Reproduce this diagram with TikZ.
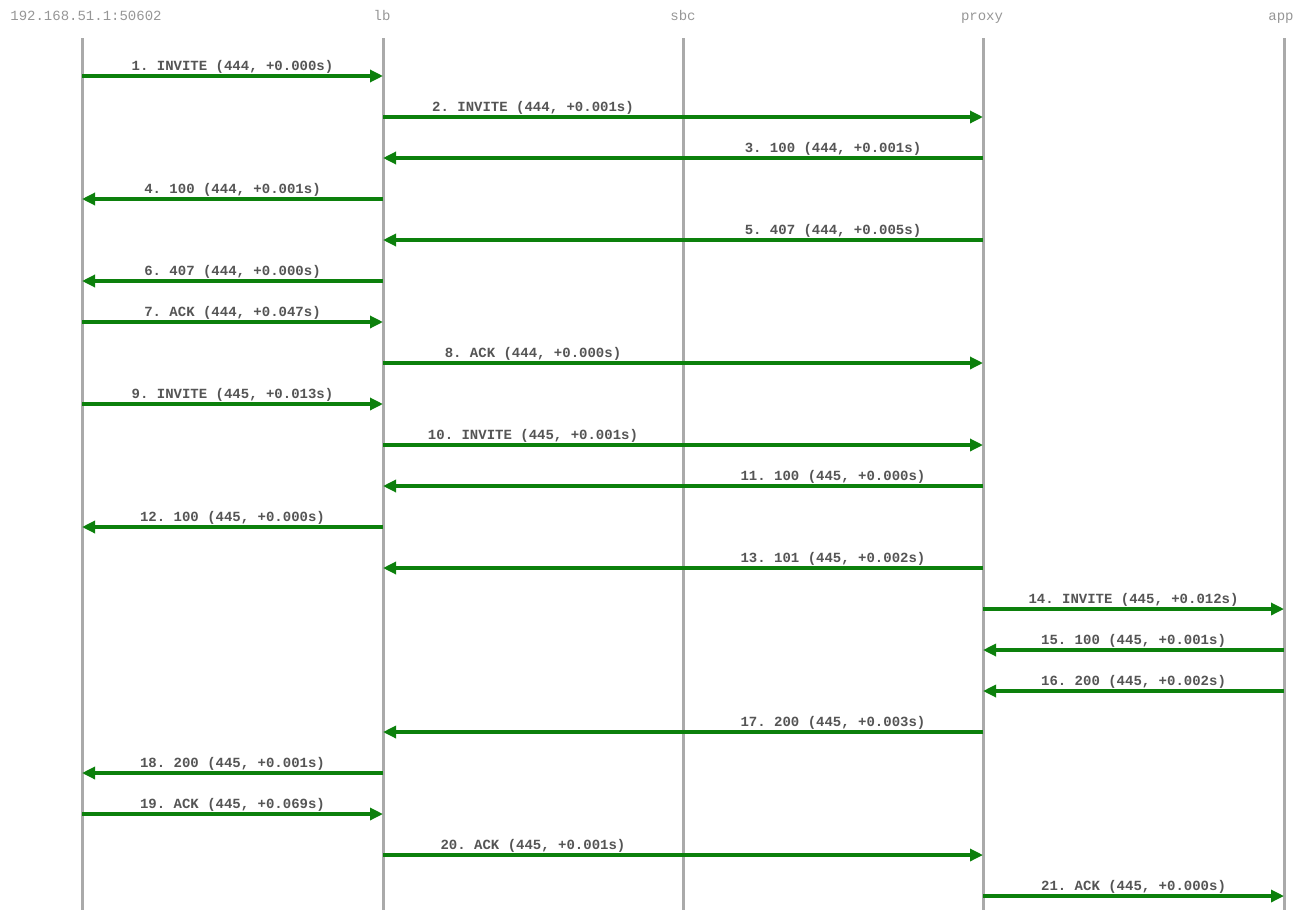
\documentclass[tikz,border=0pt]{standalone}
\usepackage{fontspec}
\setmonofont{Liberation Mono}
\usepackage{tikz}
\usetikzlibrary{calc,arrows.meta}

\definecolor{msggreen}{RGB}{12,128,12}
\definecolor{lifegray}{RGB}{170,170,170}
\definecolor{headgray}{RGB}{150,150,150}
\definecolor{textgray}{RGB}{85,85,85}

\tikzset{
  head/.style={anchor=base,text=headgray,font=\fontsize{14}{16}\selectfont\ttfamily,inner sep=0pt},
  life/.style={draw=lifegray,line width=3pt},
  msg/.style={draw=msggreen,line width=3.2pt,-{Triangle[length=13pt,width=12pt]}},
  lbl/.style={anchor=base,yshift=6pt,inner sep=0pt,text=textgray,font=\fontsize{14}{16}\selectfont\ttfamily\bfseries}
}

\begin{document}
\begin{tikzpicture}[x=1pt,y=-1pt]
  \useasboundingbox (0,0) rectangle (1305,910);
  % lifelines
  \node[head] (client) at (86,20) {192.168.51.1:50602};
  \node[head] (lb) at (382,20) {lb};
  \node[head] (sbc) at (683,20) {sbc};
  \node[head] (proxy) at (982,20) {proxy};
  \node[head] (app) at (1281,20) {app};
  \coordinate (top) at (0,38);
  \coordinate (bot) at (0,910);
  \coordinate (cl) at (82,38);
  \coordinate (lbx) at (383,38);
  \coordinate (sbcx) at (683,38);
  \coordinate (px) at (983,38);
  \coordinate (ap) at (1284,38);
  \draw[life] (cl |- top) -- (cl |- bot);
  \draw[life] (lbx |- top) -- (lbx |- bot);
  \draw[life] (sbcx |- top) -- (sbcx |- bot);
  \draw[life] (px |- top) -- (px |- bot);
  \draw[life] (ap |- top) -- (ap |- bot);
  % message rows
  \foreach \i in {1,...,21} \coordinate (r\i) at (0,35+41*\i);
  % messages
  \draw[msg] (cl |- r1) -- node[lbl] {1. INVITE (444, +0.000s)} (lbx |- r1);
  \draw[msg] (lbx |- r2) -- node[lbl,pos=.25] {2. INVITE (444, +0.001s)} (px |- r2);
  \draw[msg] (px |- r3) -- node[lbl,pos=.25] {3. 100 (444, +0.001s)} (lbx |- r3);
  \draw[msg] (lbx |- r4) -- node[lbl] {4. 100 (444, +0.001s)} (cl |- r4);
  \draw[msg] (px |- r5) -- node[lbl,pos=.25] {5. 407 (444, +0.005s)} (lbx |- r5);
  \draw[msg] (lbx |- r6) -- node[lbl] {6. 407 (444, +0.000s)} (cl |- r6);
  \draw[msg] (cl |- r7) -- node[lbl] {7. ACK (444, +0.047s)} (lbx |- r7);
  \draw[msg] (lbx |- r8) -- node[lbl,pos=.25] {8. ACK (444, +0.000s)} (px |- r8);
  \draw[msg] (cl |- r9) -- node[lbl] {9. INVITE (445, +0.013s)} (lbx |- r9);
  \draw[msg] (lbx |- r10) -- node[lbl,pos=.25] {10. INVITE (445, +0.001s)} (px |- r10);
  \draw[msg] (px |- r11) -- node[lbl,pos=.25] {11. 100 (445, +0.000s)} (lbx |- r11);
  \draw[msg] (lbx |- r12) -- node[lbl] {12. 100 (445, +0.000s)} (cl |- r12);
  \draw[msg] (px |- r13) -- node[lbl,pos=.25] {13. 101 (445, +0.002s)} (lbx |- r13);
  \draw[msg] (px |- r14) -- node[lbl] {14. INVITE (445, +0.012s)} (ap |- r14);
  \draw[msg] (ap |- r15) -- node[lbl] {15. 100 (445, +0.001s)} (px |- r15);
  \draw[msg] (ap |- r16) -- node[lbl] {16. 200 (445, +0.002s)} (px |- r16);
  \draw[msg] (px |- r17) -- node[lbl,pos=.25] {17. 200 (445, +0.003s)} (lbx |- r17);
  \draw[msg] (lbx |- r18) -- node[lbl] {18. 200 (445, +0.001s)} (cl |- r18);
  \draw[msg] (cl |- r19) -- node[lbl] {19. ACK (445, +0.069s)} (lbx |- r19);
  \draw[msg] (lbx |- r20) -- node[lbl,pos=.25] {20. ACK (445, +0.001s)} (px |- r20);
  \draw[msg] (px |- r21) -- node[lbl] {21. ACK (445, +0.000s)} (ap |- r21);
\end{tikzpicture}
\end{document}
